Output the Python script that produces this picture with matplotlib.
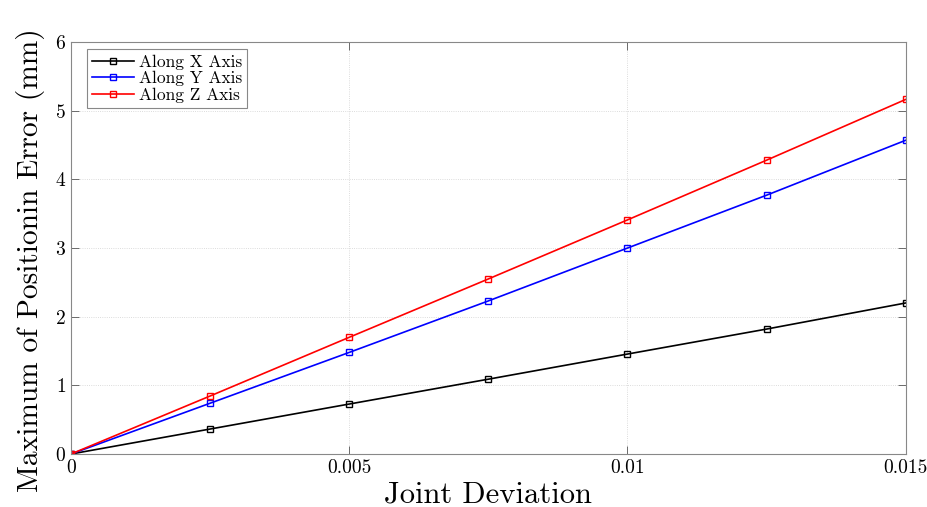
import numpy as np
import matplotlib
matplotlib.use("Agg")
from matplotlib import pyplot as plt

plt.rcParams['font.family'] = 'serif'
plt.rcParams['font.serif'] = ['cmr10']
plt.rcParams['mathtext.fontset'] = 'cm'
plt.rcParams['axes.formatter.use_mathtext'] = True

joint_dev = [0, 0.0025, 0.005, 0.0075, 0.01, 0.0125, 0.015]
err_x = [0, 0.364, 0.728, 1.09, 1.456, 1.82, 2.2]
err_y = [0, 0.74, 1.48, 2.23, 3.0, 3.77, 4.57]
err_z = [0, 0.845, 1.70, 2.55, 3.41, 4.28, 5.165]

xticks = [0, 0.005, 0.01, 0.015]
xticklabels = ['0', '0.005', '0.01', '0.015']
yticks = [0, 1, 2, 3, 4, 5, 6]

fig = plt.figure(figsize=(9.28, 5.07), dpi=100)
ax = fig.add_axes([0.0765, 0.1045, 0.8995, 0.8125])

ax.plot(joint_dev, err_x, color='black', marker='s', mfc='none', ms=5, lw=1.2, label='Along X Axis')
ax.plot(joint_dev, err_y, color='blue', marker='s', mfc='none', ms=5, lw=1.2, label='Along Y Axis')
ax.plot(joint_dev, err_z, color='red', marker='s', mfc='none', ms=5, lw=1.2, label='Along Z Axis')

ax.set_xlim(0, 0.015)
ax.set_ylim(0, 6)
ax.set_xticks(xticks)
ax.set_xticklabels(xticklabels)
ax.set_yticks(yticks)
ax.tick_params(direction='in', top=True, right=True, length=6, width=0.6,
               colors='#555555', labelcolor='black', labelsize=14)
for s in ax.spines.values():
    s.set_color('#888888')
    s.set_linewidth(0.8)
ax.grid(True, linestyle=':', color='#d0d0d0', linewidth=0.6)

ax.set_xlabel('Joint Deviation', fontsize=22, labelpad=3)
ax.set_ylabel('Maximum of Positionin Error (mm)', fontsize=21.2)
ax.yaxis.set_label_coords(-0.031, 0.47)

leg = ax.legend(loc='upper left', fontsize=12.5, fancybox=False, edgecolor='#888888',
                framealpha=1, borderpad=0.3, labelspacing=0.08, handlelength=2.4,
                handletextpad=0.3, bbox_to_anchor=(0.0085, 1.004))
leg.get_frame().set_linewidth(0.8)

fig.savefig('out.png', dpi=100)
